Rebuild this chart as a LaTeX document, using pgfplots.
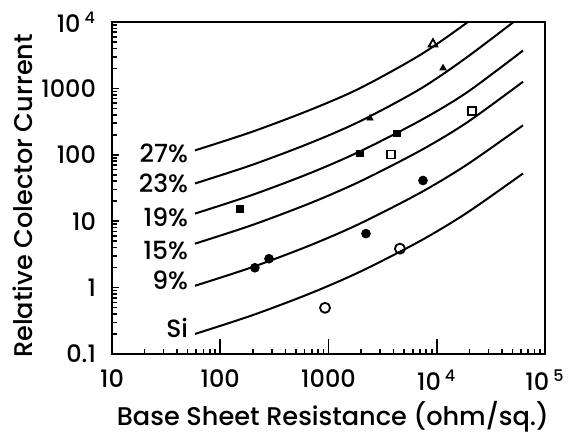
\documentclass[border=0pt]{standalone}
\usepackage{pgfplots}
\pgfplotsset{compat=1.18}
\usepackage{fontspec}
\setmainfont{Poppins}[UprightFont={* Medium}]

\begin{document}
\begin{tikzpicture}
% fixed page frame around the axis box
\path[use as bounding box] (-56pt,-39.5pt) rectangle (237pt,177pt);
\begin{axis}[
  at={(0,0)}, anchor=south west,
  scale only axis, width=216.5pt, height=166pt,
  xmode=log, ymode=log,
  xmin=10, xmax=1e5, ymin=0.1, ymax=1e4,
  axis line style={line width=1pt},
  tick pos=left, tick align=inside,
  major tick length=3.5pt, minor tick length=2.5pt,
  every tick/.style={black, line width=0.8pt},
  xtick={10,100,1000,10000,100000},
  xticklabels={10,100,1000,10\,\textsuperscript{4},10\,\textsuperscript{5}},
  extra x ticks={100,1000,10000},
  extra x tick labels={},
  extra x tick style={major tick length=7.5pt},
  ytick={0.1,1,10,100,1000,10000},
  yticklabels={0.1,1,10,100,1000,10\,\textsuperscript{4}},
  tick label style={font=\fontsize{12}{14}\selectfont},
  xticklabel style={yshift=-4.5pt},
  yticklabel style={xshift=-4.5pt},
  xlabel={Base Sheet Resistance (ohm/sq.)},
  ylabel={Relative Colector Current},
  label style={font=\fontsize{12.8}{15}\selectfont},
  xlabel style={at={(axis description cs:0.51,-0.19)}, anchor=center},
  ylabel style={at={(axis description cs:-0.205,0.476)}, anchor=center},
]
% model curves
\addplot[black, line width=1pt, smooth] coordinates {
  (58.4,116.5) (196.5,221.8) (674.6,473.5) (1954,1007) (7002,3177) (19030,9770) (62630,41700)};
\addplot[black, line width=1pt, smooth] coordinates {
  (58.4,36.98) (196.5,70.4) (674.6,150.2) (1954,319.6) (7002,977) (19030,2951) (62630,12880)};
\addplot[black, line width=1pt, smooth] coordinates {
  (58.4,13.02) (196.5,24.79) (674.6,52.9) (1954,112.6) (7002,326.3) (19030,870.3) (62630,3715)};
\addplot[black, line width=1pt, smooth] coordinates {
  (58.4,4.588) (196.5,8.733) (674.6,18.64) (1954,39.65) (7002,114.9) (19030,306.5) (62630,1260)};
\addplot[black, line width=1pt, smooth] coordinates {
  (58.4,1.065) (196.5,2.026) (674.6,4.325) (1954,9.201) (7002,26.67) (19030,71.12) (62630,278)};
\addplot[black, line width=1pt, smooth] coordinates {
  (58.4,0.2004) (196.5,0.3816) (674.6,0.8146) (1954,1.732) (7002,5.022) (19030,13.39) (62630,52.36)};

% measured devices
\addplot[only marks, mark=triangle, mark size=2.4pt, mark options={line width=0.9pt, black}]
  coordinates {(9230,4660)};
\addplot[only marks, mark=triangle*, mark size=1.8pt, mark options={black}]
  coordinates {(2415,355) (11430,2019)};
\addplot[only marks, mark=square*, mark size=1.7pt, mark options={black}]
  coordinates {(152,15.5) (1954,105) (4295,210)};
\addplot[only marks, mark=square, mark size=2pt, mark options={line width=0.9pt, black}]
  coordinates {(3776,101) (21200,453)};
\addplot[only marks, mark=*, mark size=2.2pt, mark options={black}]
  coordinates {(209,1.99) (282,2.72) (2218,6.5) (7464,41)};
\addplot[only marks, mark=o, mark size=2.5pt, mark options={line width=0.9pt, black}]
  coordinates {(929,0.496) (4571,3.86)};

% curve labels
\begin{scope}[every node/.style={anchor=east, inner sep=1pt, font=\fontsize{12.5}{14}\selectfont}]
\node at (axis cs:53,105) {27\%};
\node at (axis cs:53,37) {23\%};
\node at (axis cs:53,11.3) {19\%};
\node at (axis cs:53,3.6) {15\%};
\node at (axis cs:53,1.27) {9\%};
\node at (axis cs:53,0.247) {Si};
\end{scope}
\end{axis}
\end{tikzpicture}
\end{document}
